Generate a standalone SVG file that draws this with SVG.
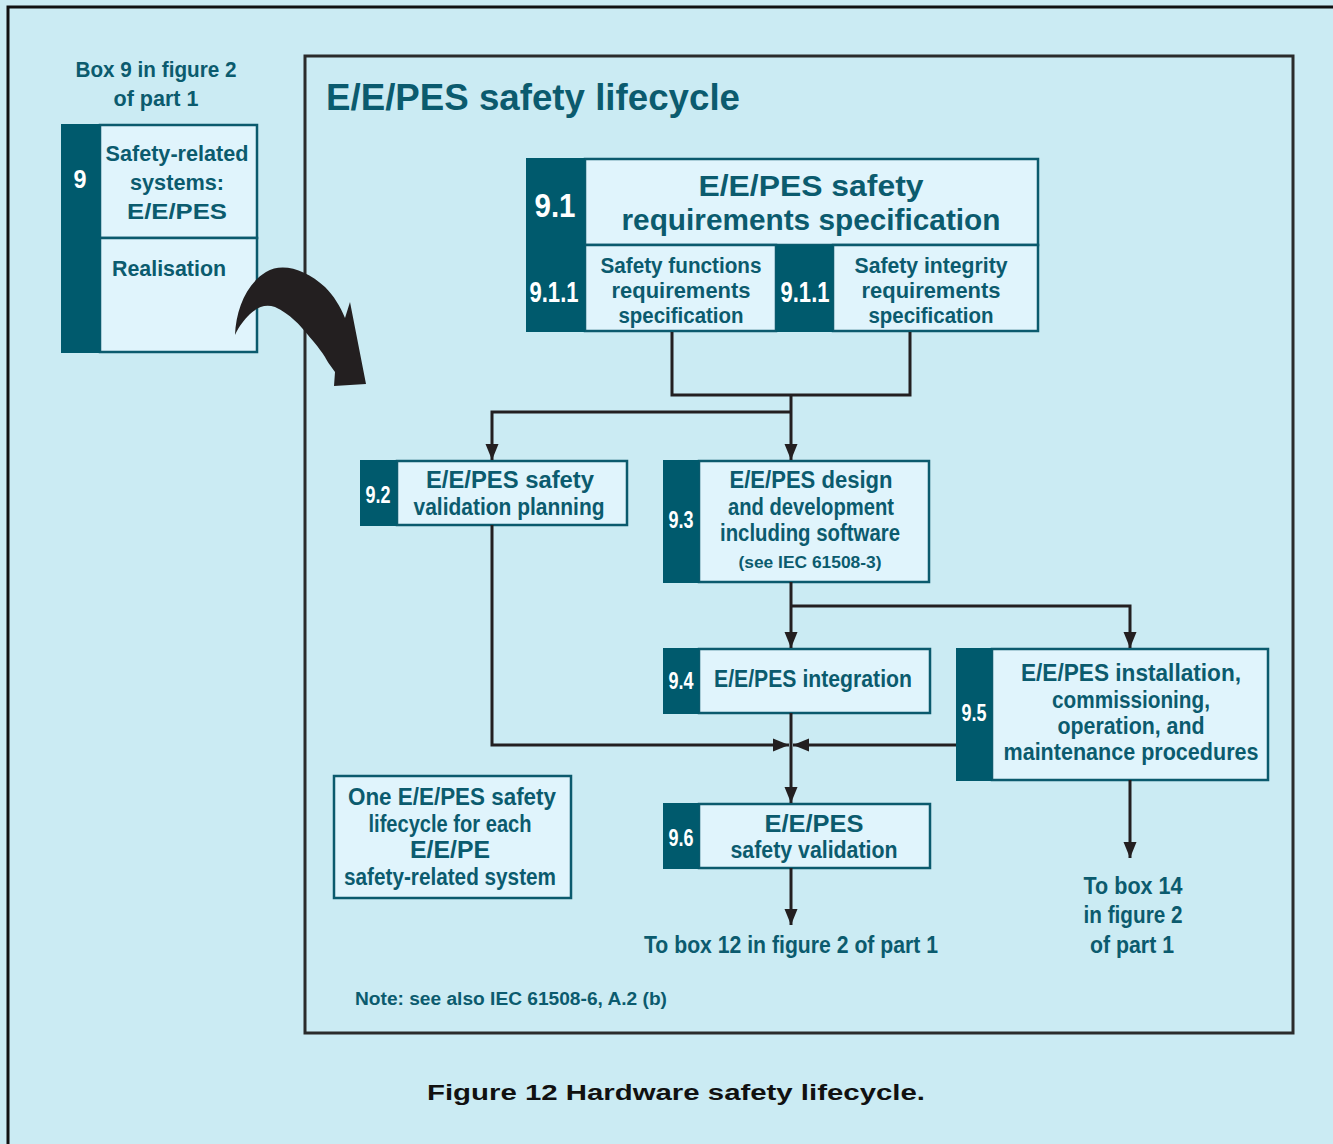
<svg xmlns="http://www.w3.org/2000/svg" width="1333" height="1144" viewBox="0 0 1333 1144">
  <style>
    .lt { fill: #e0f4fc; stroke: #0b5a6d; stroke-width: 2.5; }
    .dk { fill: #005a6d; }
    .t { font-family: "Liberation Sans", Arial, sans-serif; font-weight: bold; fill: #0b5b6e; text-anchor: middle; }
    .n { font-family: "Liberation Sans", Arial, sans-serif; font-weight: bold; fill: #ffffff; text-anchor: middle; }
    .ln { fill: none; stroke: #231f20; stroke-width: 3; }
    .ar { fill: none; stroke: #231f20; stroke-width: 3; marker-end: url(#head); }
  </style>
  <defs>
    <marker id="head" markerUnits="userSpaceOnUse" markerWidth="16" markerHeight="16" viewBox="0 0 16 16" refX="16" refY="8" orient="auto">
      <path d="M0,1.5 L16,8 L0,14.5 Z" fill="#231f20"/>
    </marker>
  </defs>

  <!-- page background and frame -->
  <rect x="0" y="0" width="1333" height="1144" fill="#cbebf3"/>
  <path d="M8,1144 V7 H1333" fill="none" stroke="#111" stroke-width="3"/>
  <rect x="305" y="56" width="988" height="977" fill="none" stroke="#2b2b2b" stroke-width="3"/>

  <!-- heading of the left column -->
  <text class="t" x="156" y="77" font-size="22" textLength="161" lengthAdjust="spacingAndGlyphs">Box 9 in figure 2</text>
  <text class="t" x="156" y="106" font-size="22" textLength="85" lengthAdjust="spacingAndGlyphs">of part 1</text>

  <!-- box 9 -->
  <g id="box9">
    <rect class="lt" x="100" y="125" width="157" height="113"/>
    <rect class="lt" x="100" y="238" width="157" height="114"/>
    <rect class="dk" x="61" y="124" width="39" height="229"/>
    <text class="n" x="80" y="188" font-size="26" textLength="13" lengthAdjust="spacingAndGlyphs">9</text>
    <text class="t" x="177" y="161" font-size="22" textLength="143" lengthAdjust="spacingAndGlyphs">Safety-related</text>
    <text class="t" x="177" y="190" font-size="22" textLength="94" lengthAdjust="spacingAndGlyphs">systems:</text>
    <text class="t" x="177" y="219" font-size="22" textLength="100" lengthAdjust="spacingAndGlyphs">E/E/PES</text>
    <text class="t" x="169" y="276" font-size="22" textLength="114" lengthAdjust="spacingAndGlyphs">Realisation</text>
  </g>

  <!-- curved transfer arrow -->
  <path id="bigArrow" d="M235,335 C236,310 246,284 266,272 C283,262 306,270 325,287 C334,296 340,306 345,318 L350,302 L366,384 L334,386 L335,372 C330,365 327,361 325,357 C318,346 312,340 308,335 C300,325 290,314 275,307 C265,304 258,307 250,314 C244,320 239,326 235,335 Z" fill="#231f20"/>

  <!-- panel title -->
  <text class="t" x="326" y="110" font-size="37" style="text-anchor:start" textLength="414" lengthAdjust="spacingAndGlyphs">E/E/PES safety lifecycle</text>

  <!-- 9.1 and its sub-boxes -->
  <g id="box9_1">
    <rect class="lt" x="585" y="159" width="453" height="86"/>
    <rect class="lt" x="585" y="245" width="191" height="86"/>
    <rect class="lt" x="833" y="245" width="205" height="86"/>
    <rect class="dk" x="526" y="158" width="59" height="174"/>
    <rect class="dk" x="776" y="245" width="57" height="87"/>
    <text class="n" x="555" y="217" font-size="33" textLength="41" lengthAdjust="spacingAndGlyphs">9.1</text>
    <text class="t" x="811" y="196" font-size="30" textLength="225" lengthAdjust="spacingAndGlyphs">E/E/PES safety</text>
    <text class="t" x="811" y="230" font-size="30" textLength="379" lengthAdjust="spacingAndGlyphs">requirements specification</text>
    <text class="n" x="554" y="302" font-size="29" textLength="49" lengthAdjust="spacingAndGlyphs">9.1.1</text>
    <text class="t" x="681" y="273" font-size="22" textLength="161" lengthAdjust="spacingAndGlyphs">Safety functions</text>
    <text class="t" x="681" y="298" font-size="22" textLength="139" lengthAdjust="spacingAndGlyphs">requirements</text>
    <text class="t" x="681" y="323" font-size="22" textLength="125" lengthAdjust="spacingAndGlyphs">specification</text>
    <text class="n" x="805" y="302" font-size="29" textLength="49" lengthAdjust="spacingAndGlyphs">9.1.1</text>
    <text class="t" x="931" y="273" font-size="22" textLength="153" lengthAdjust="spacingAndGlyphs">Safety integrity</text>
    <text class="t" x="931" y="298" font-size="22" textLength="139" lengthAdjust="spacingAndGlyphs">requirements</text>
    <text class="t" x="931" y="323" font-size="22" textLength="125" lengthAdjust="spacingAndGlyphs">specification</text>
  </g>

  <!-- 9.2 -->
  <g id="box9_2">
    <rect class="lt" x="397" y="461" width="230" height="64"/>
    <rect class="dk" x="360" y="460" width="37" height="66"/>
    <text class="n" x="378" y="503" font-size="23" textLength="25" lengthAdjust="spacingAndGlyphs">9.2</text>
    <text class="t" x="510" y="488" font-size="23" textLength="168" lengthAdjust="spacingAndGlyphs">E/E/PES safety</text>
    <text class="t" x="509" y="515" font-size="23" textLength="191" lengthAdjust="spacingAndGlyphs">validation planning</text>
  </g>

  <!-- 9.3 -->
  <g id="box9_3">
    <rect class="lt" x="699" y="461" width="230" height="121"/>
    <rect class="dk" x="663" y="460" width="36" height="123"/>
    <text class="n" x="681" y="528" font-size="23" textLength="25" lengthAdjust="spacingAndGlyphs">9.3</text>
    <text class="t" x="811" y="488" font-size="23" textLength="163" lengthAdjust="spacingAndGlyphs">E/E/PES design</text>
    <text class="t" x="811" y="515" font-size="23" textLength="166" lengthAdjust="spacingAndGlyphs">and development</text>
    <text class="t" x="810" y="541" font-size="23" textLength="180" lengthAdjust="spacingAndGlyphs">including software</text>
    <text class="t" x="810" y="568" font-size="17" textLength="143" lengthAdjust="spacingAndGlyphs">(see IEC 61508-3)</text>
  </g>

  <!-- 9.4 -->
  <g id="box9_4">
    <rect class="lt" x="699" y="649" width="231" height="64"/>
    <rect class="dk" x="663" y="648" width="36" height="66"/>
    <text class="n" x="681" y="689" font-size="23" textLength="25" lengthAdjust="spacingAndGlyphs">9.4</text>
    <text class="t" x="813" y="687" font-size="23" textLength="198" lengthAdjust="spacingAndGlyphs">E/E/PES integration</text>
  </g>

  <!-- 9.5 -->
  <g id="box9_5">
    <rect class="lt" x="992" y="649" width="276" height="131"/>
    <rect class="dk" x="956" y="648" width="36" height="133"/>
    <text class="n" x="974" y="721" font-size="23" textLength="25" lengthAdjust="spacingAndGlyphs">9.5</text>
    <text class="t" x="1131" y="681" font-size="23" textLength="220" lengthAdjust="spacingAndGlyphs">E/E/PES installation,</text>
    <text class="t" x="1131" y="708" font-size="23" textLength="158" lengthAdjust="spacingAndGlyphs">commissioning,</text>
    <text class="t" x="1131" y="734" font-size="23" textLength="147" lengthAdjust="spacingAndGlyphs">operation, and</text>
    <text class="t" x="1131" y="760" font-size="23" textLength="255" lengthAdjust="spacingAndGlyphs">maintenance procedures</text>
  </g>

  <!-- 9.6 -->
  <g id="box9_6">
    <rect class="lt" x="699" y="804" width="231" height="64"/>
    <rect class="dk" x="663" y="803" width="36" height="66"/>
    <text class="n" x="681" y="846" font-size="23" textLength="25" lengthAdjust="spacingAndGlyphs">9.6</text>
    <text class="t" x="814" y="832" font-size="23" textLength="99" lengthAdjust="spacingAndGlyphs">E/E/PES</text>
    <text class="t" x="814" y="858" font-size="23" textLength="167" lengthAdjust="spacingAndGlyphs">safety validation</text>
  </g>

  <!-- remark box -->
  <g id="remark">
    <rect class="lt" x="334" y="776" width="237" height="122"/>
    <text class="t" x="452" y="805" font-size="23" textLength="208" lengthAdjust="spacingAndGlyphs">One E/E/PES safety</text>
    <text class="t" x="450" y="832" font-size="23" textLength="163" lengthAdjust="spacingAndGlyphs">lifecycle for each</text>
    <text class="t" x="450" y="858" font-size="23" textLength="80" lengthAdjust="spacingAndGlyphs">E/E/PE</text>
    <text class="t" x="450" y="885" font-size="23" textLength="212" lengthAdjust="spacingAndGlyphs">safety-related system</text>
  </g>

  <!-- outgoing references -->
  <g id="toBox12">
    <text class="t" x="791" y="953" font-size="23" textLength="294" lengthAdjust="spacingAndGlyphs">To box 12 in figure 2 of part 1</text>
  </g>
  <g id="toBox14">
    <text class="t" x="1133" y="894" font-size="23" textLength="99" lengthAdjust="spacingAndGlyphs">To box 14</text>
    <text class="t" x="1133" y="923" font-size="23" textLength="99" lengthAdjust="spacingAndGlyphs">in figure 2</text>
    <text class="t" x="1132" y="953" font-size="23" textLength="84" lengthAdjust="spacingAndGlyphs">of part 1</text>
  </g>

  <text class="t" x="355" y="1005" font-size="18" style="text-anchor:start" textLength="312" lengthAdjust="spacingAndGlyphs">Note: see also IEC 61508-6, A.2 (b)</text>

  <!-- connectors -->
  <g id="connectors">
    <path class="ln" d="M672,332 V395 H910 V332"/>
    <path class="ar" d="M791,395 V460"/>
    <path class="ar" d="M791,412 H492 V460"/>
    <path class="ar" d="M791,582 V648"/>
    <path class="ar" d="M791,606 H1130 V648"/>
    <path class="ar" d="M492,525 V745 H789"/>
    <path class="ar" d="M956,745 H793"/>
    <path class="ar" d="M791,713 V803"/>
    <path class="ar" d="M791,868 V925"/>
    <path class="ar" d="M1130,780 V858"/>
  </g>

  <!-- caption -->
  <text x="676" y="1100" font-family="'Liberation Sans', Arial, sans-serif" font-weight="bold" font-size="22" fill="#111" text-anchor="middle" textLength="498" lengthAdjust="spacingAndGlyphs">Figure 12 Hardware safety lifecycle.</text>
</svg>
